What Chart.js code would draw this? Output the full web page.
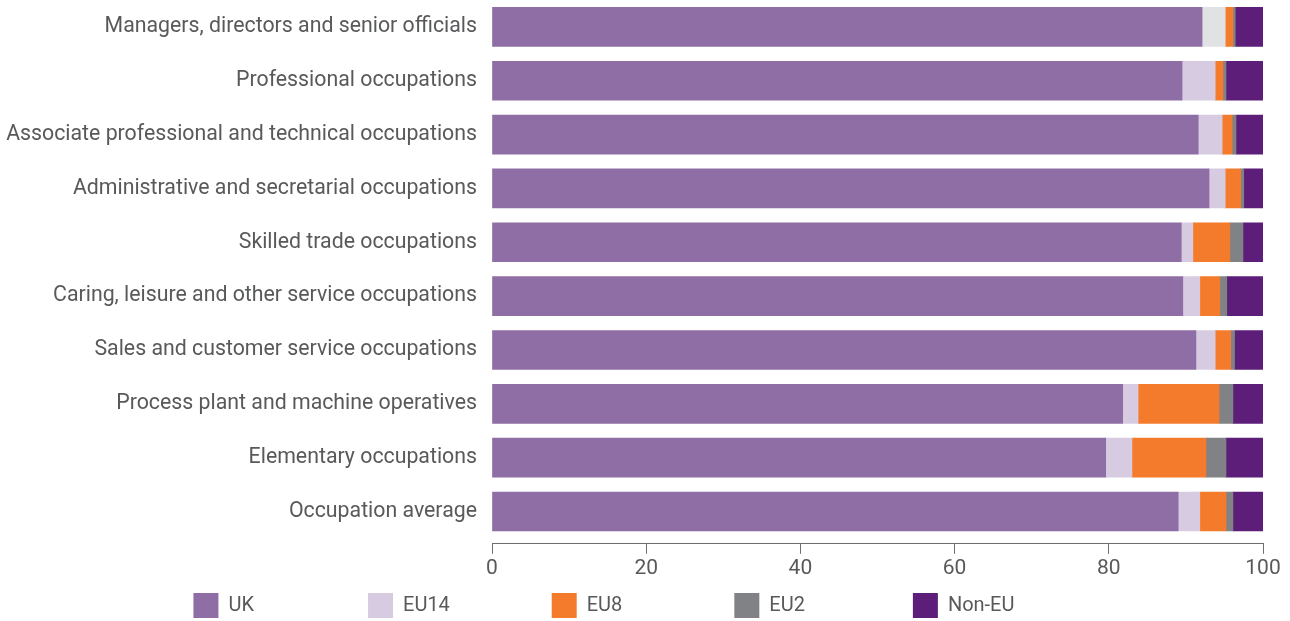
<!DOCTYPE html>
<html>
<head>
<meta charset="utf-8">
<script src="https://cdn.jsdelivr.net/npm/chart.js"></script>
<style>
  html, body { margin: 0; padding: 0; overflow: hidden; background: #fff; }
  #wrap { width: 1290px; height: 628px; }
</style>
</head>
<body>
<div id="wrap"><canvas id="myChart"></canvas></div>
<script>
const occupations = [
  'Managers, directors and senior officials',
  'Professional occupations',
  'Associate professional and technical occupations',
  'Administrative and secretarial occupations',
  'Skilled trade occupations',
  'Caring, leisure and other service occupations',
  'Sales and customer service occupations',
  'Process plant and machine operatives',
  'Elementary occupations',
  'Occupation average'
];
const ukShare    = [92.1, 89.5, 91.6, 93.0, 89.4, 89.6, 91.3, 81.8, 79.6, 89.0];
const eu14Share  = [3.0, 4.3, 3.1, 2.1, 1.5, 2.2, 2.5, 2.0, 3.4, 2.8];
const eu8Share   = [1.0, 1.0, 1.3, 2.0, 4.8, 2.6, 2.0, 10.5, 9.6, 3.4];
const eu2Share   = [0.3, 0.4, 0.5, 0.4, 1.7, 0.9, 0.5, 1.8, 2.6, 0.9];
const nonEuShare = [3.6, 4.9, 3.5, 2.8, 2.6, 4.7, 3.7, 3.9, 4.8, 4.0];
const xTicks = [0, 20, 40, 60, 80, 100];

const textColor = '#58595b';
const fontFamily = 'Roboto, "Noto Sans", sans-serif';
// widths the legend texts are padded to, so the keys sit where they do in the original
const legendTextWidths = [129, 139, 138, 133, 121];

// bars sit on a numeric row scale so the axis line can sit a little below the last bar
const toPoints = vals => vals.map((v, i) => ({x: v, y: i}));

const measureCtx = document.createElement('canvas').getContext('2d');
function padLabel(text, width) {
  measureCtx.font = '20px ' + fontFamily;
  const space = measureCtx.measureText('\u200A').width || 2;
  let t = text;
  while (measureCtx.measureText(t).width + space / 2 < width) t += '\u200A';
  return t;
}

const ctx = document.getElementById('myChart');
new Chart(ctx, {
  type: 'bar',
  data: {
    datasets: [
      { label: 'UK', data: toPoints(ukShare), backgroundColor: '#8e6ea4' },
      { label: 'EU14', data: toPoints(eu14Share),
        backgroundColor: c => (c.type === 'data' && c.dataIndex === 0) ? '#e1e2e3' : '#d7cbe2' },
      { label: 'EU8', data: toPoints(eu8Share), backgroundColor: '#f47b2c' },
      { label: 'EU2', data: toPoints(eu2Share), backgroundColor: '#808285' },
      { label: 'Non-EU', data: toPoints(nonEuShare), backgroundColor: '#5c1e78' }
    ]
  },
  options: {
    indexAxis: 'y',
    responsive: true,
    maintainAspectRatio: false,
    animation: false,
    barThickness: 39,
    layout: { padding: { right: 27 } },
    scales: {
      x: {
        stacked: true,
        min: 0,
        max: 100,
        afterBuildTicks: axis => { axis.ticks = xTicks.map(v => ({value: v})); },
        grid: { drawOnChartArea: false, tickLength: 10, color: '#6d6e71' },
        border: { color: '#6d6e71' },
        ticks: { color: textColor, font: { family: fontFamily, size: 21 }, padding: 2 }
      },
      y: {
        type: 'linear',
        stacked: true,
        reverse: true,
        offset: false,
        min: -0.5,
        max: 9.6,
        afterBuildTicks: axis => { axis.ticks = occupations.map((o, i) => ({value: i})); },
        afterFit: scale => {
          scale.width = 492;
          scale.paddingTop = 0;
          scale.paddingBottom = 0;
        },
        grid: { display: false, drawTicks: true, tickLength: 15, offset: false },
        border: { display: false },
        ticks: {
          autoSkip: false,
          color: textColor,
          font: { family: fontFamily, size: 21.3 },
          padding: 0,
          callback: v => occupations[v]
        }
      }
    },
    plugins: {
      tooltip: { enabled: false },
      legend: {
        position: 'bottom',
        align: 'center',
        labels: {
          boxWidth: 25,
          boxHeight: 25,
          padding: 10,
          color: textColor,
          font: { family: fontFamily, size: 20 },
          generateLabels: chart => {
            const items = Chart.defaults.plugins.legend.labels.generateLabels(chart);
            items.forEach((item, i) => {
              item.fillStyle = chart.data.datasets[i].label === 'EU14' ? '#d7cbe2' : item.fillStyle;
              item.strokeStyle = item.fillStyle;
              item.lineWidth = 0;
              item.text = padLabel(item.text, legendTextWidths[i]);
            });
            return items;
          }
        }
      }
    }
  }
});
</script>
</body>
</html>
